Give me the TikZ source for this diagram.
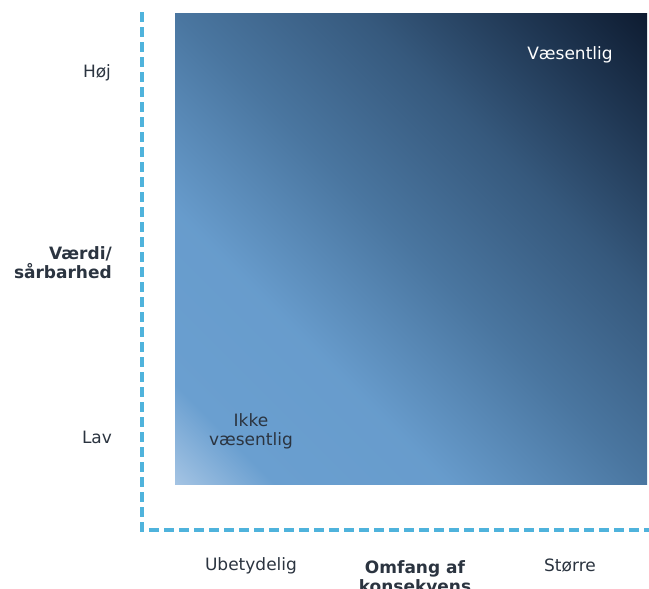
\documentclass[tikz,border=0pt]{standalone}
\usepackage{fontspec}
\setmainfont{DejaVu Sans}
\usepackage{tikz}
\usetikzlibrary{positioning}

\definecolor{axisblue}{HTML}{4FB3DC}
\definecolor{lightend}{HTML}{A3C3E3}
\definecolor{midblue}{HTML}{6A9FD0}
\definecolor{centreblue}{HTML}{4A76A0}
\definecolor{darkblue}{HTML}{36597D}
\definecolor{deepblue}{HTML}{1F3652}
\definecolor{darkend}{HTML}{0E1C31}
\definecolor{labeltext}{HTML}{2B3440}

% corners of the field fall at about 14.6bp and 85.4bp
\pgfdeclarehorizontalshading{valueshade}{100bp}{color(0bp)=(lightend);
  color(14.6bp)=(lightend); color(22bp)=(midblue); color(35bp)=(midblue!92!centreblue);
  color(50bp)=(centreblue); color(64bp)=(darkblue); color(76bp)=(deepblue);
  color(85.4bp)=(darkend); color(100bp)=(darkend)}

\begin{document}
\begin{tikzpicture}[x=1pt, y=-1pt, font=\fontsize{17}{19}\selectfont]
\tikzset{axisline/.style = {draw=axisblue, line width=4pt, dash pattern=on 10pt off 5pt},
  scalelabel/.style = {text=labeltext, align=center, inner sep=0pt},
  axistitle/.style = {scalelabel, font=\fontsize{17}{19}\selectfont\bfseries}}
\useasboundingbox (0,0) rectangle (649,589);

  % dashed axes
  \coordinate (ytop) at (142,12);
  \coordinate (origin) at (142,530);
  \coordinate (xend) at (649,530);
  \draw[axisline] (ytop) -- (origin) -- (xend);

  % gradient field
  \node[minimum width=472pt, minimum height=471pt, inner sep=0pt,
    shading=valueshade, shading angle=45] (field) at (411,248.5) {};

  \node[scalelabel, text=white] (significant) at (570,55) {Væsentlig};
  \node[scalelabel] (insignificant) at (251,431) {Ikke\\væsentlig};

  % value axis
  \node[scalelabel] (high) at (97,73) {Høj};
  \node[scalelabel] (low) at (97,437) {Lav};
  \node[axistitle, align=right, anchor=east] (value) at (112,263) {Værdi/\\sårbarhed};

  % consequence axis
  \node[scalelabel] (minor) at (251,566) {Ubetydelig};
  \node[axistitle, anchor=north] (extent) at (415,560) {Omfang af\\konsekvens};
  \node[scalelabel] (major) at (570,566) {Større};

\end{tikzpicture}
\end{document}
